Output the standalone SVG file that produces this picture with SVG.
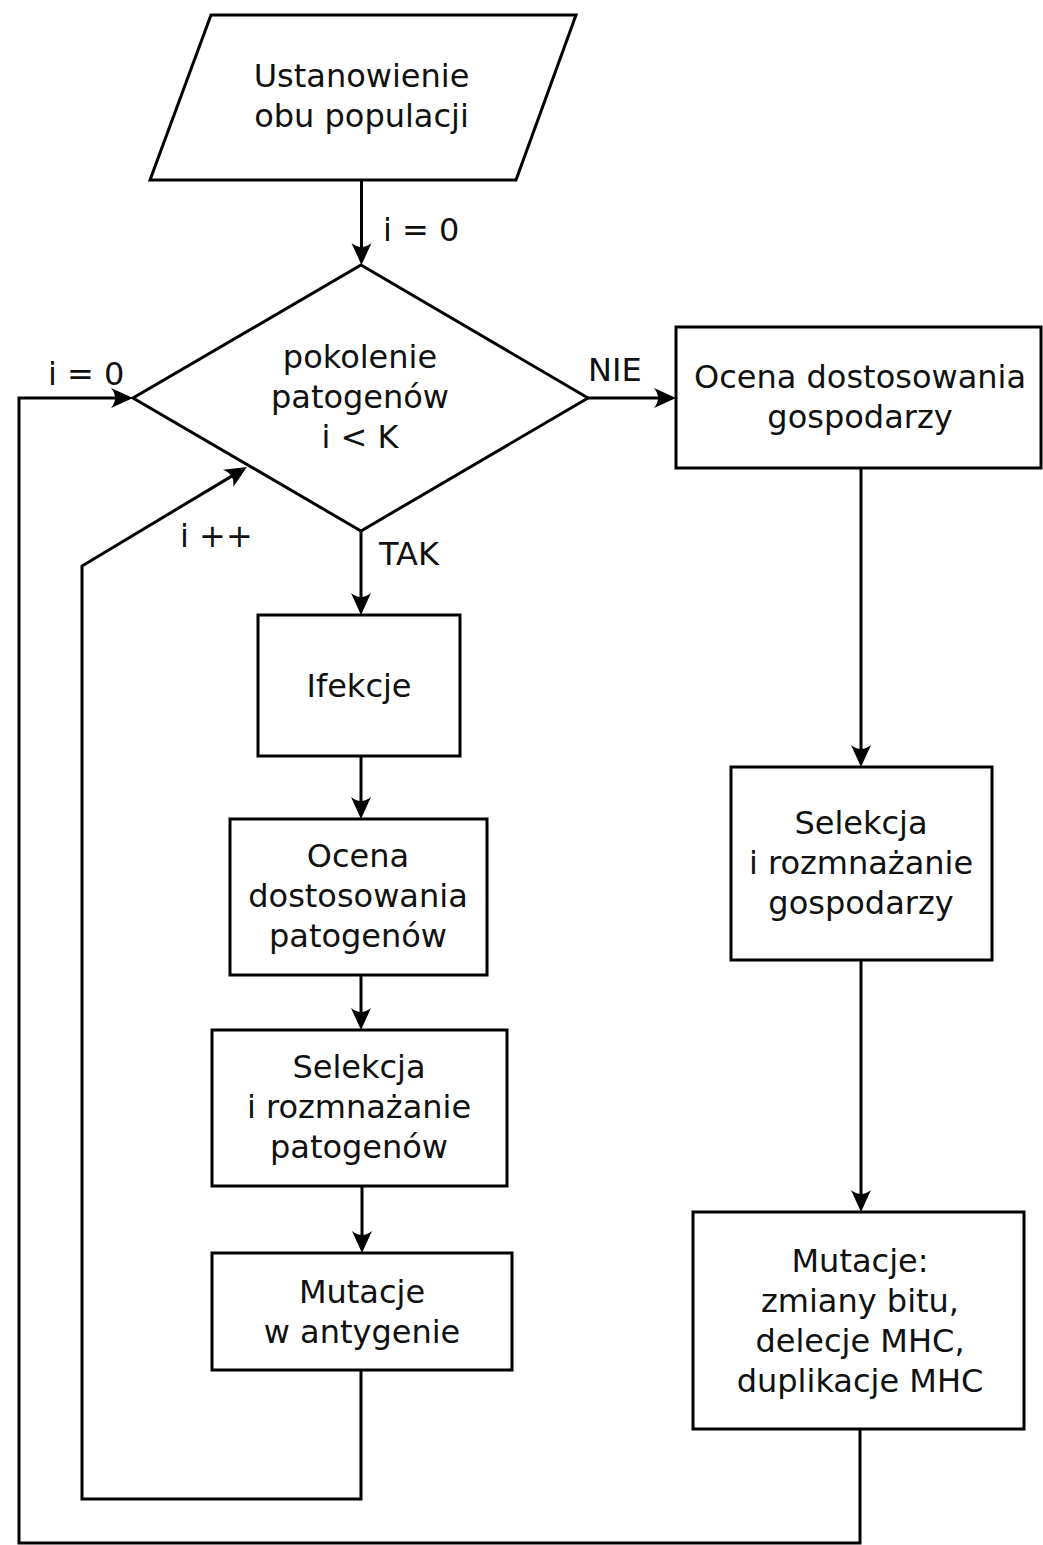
<svg xmlns="http://www.w3.org/2000/svg" width="1043" height="1545" viewBox="0 0 1043 1545">
  <style>
    .shape { fill: #ffffff; stroke: #000000; stroke-width: 3; }
    .conn { fill: none; stroke: #000000; stroke-width: 3; }
    text { font-family: "DejaVu Sans", "Liberation Sans", sans-serif; font-size: 32px; fill: #111111; }
    .c { text-anchor: middle; }
  </style>
  <defs>
    <marker id="arrow" markerUnits="userSpaceOnUse" orient="auto" refX="0" refY="0" markerWidth="40" markerHeight="40" viewBox="-20 -20 40 40" overflow="visible">
      <path d="M8,0 L-14,-10 Q-6,0 -14,10 Z" fill="#000000"/>
    </marker>
  </defs>
  <rect x="0" y="0" width="1043" height="1545" fill="#ffffff"/>

  <g id="connectors">
    <path class="conn" d="M361.5,180 L361.5,257" marker-end="url(#arrow)"/>
    <path class="conn" d="M588,398 L668,398" marker-end="url(#arrow)"/>
    <path class="conn" d="M861,468 L861,759" marker-end="url(#arrow)"/>
    <path class="conn" d="M861,960 L861,1204" marker-end="url(#arrow)"/>
    <path class="conn" d="M860,1429 V1543 H19 V398 H125" marker-end="url(#arrow)"/>
    <path class="conn" d="M361,531 V607" marker-end="url(#arrow)"/>
    <path class="conn" d="M361,756 V811" marker-end="url(#arrow)"/>
    <path class="conn" d="M361,975 V1022" marker-end="url(#arrow)"/>
    <path class="conn" d="M362,1186 V1245" marker-end="url(#arrow)"/>
    <path class="conn" d="M361,1370 V1499 H82 V566 L240.1,471.1" marker-end="url(#arrow)"/>
    <text x="383" y="241">i = 0</text>
    <text x="48" y="385">i = 0</text>
    <text x="588" y="381">NIE</text>
    <text x="379" y="565">TAK</text>
    <text x="180" y="547">i ++</text>
  </g>

  <g id="start">
    <polygon class="shape" points="211,15 576,15 516,180 150,180"/>
    <text class="c" x="361.5" y="87">Ustanowienie</text>
    <text class="c" x="361.5" y="127">obu populacji</text>
  </g>

  <g id="decision">
    <polygon class="shape" points="361,265 588,398 361,531 133,398"/>
    <text class="c" x="360" y="368">pokolenie</text>
    <text class="c" x="360" y="408">patogenów</text>
    <text class="c" x="360" y="448">i &lt; K</text>
  </g>

  <g id="host-fitness">
    <rect class="shape" x="676" y="327" width="365" height="141"/>
    <text class="c" x="860" y="388">Ocena dostosowania</text>
    <text class="c" x="860" y="428">gospodarzy</text>
  </g>

  <g id="host-selection">
    <rect class="shape" x="731" y="767" width="261" height="193"/>
    <text class="c" x="861" y="834">Selekcja</text>
    <text class="c" x="861" y="874">i rozmnażanie</text>
    <text class="c" x="861" y="914">gospodarzy</text>
  </g>

  <g id="host-mutation">
    <rect class="shape" x="693" y="1212" width="331" height="217"/>
    <text class="c" x="860" y="1272">Mutacje:</text>
    <text class="c" x="860" y="1312">zmiany bitu,</text>
    <text class="c" x="860" y="1352">delecje MHC,</text>
    <text class="c" x="860" y="1392">duplikacje MHC</text>
  </g>

  <g id="infections">
    <rect class="shape" x="258" y="615" width="202" height="141"/>
    <text class="c" x="359" y="697">Ifekcje</text>
  </g>

  <g id="pathogen-fitness">
    <rect class="shape" x="230" y="819" width="257" height="156"/>
    <text class="c" x="358" y="867">Ocena</text>
    <text class="c" x="358" y="907">dostosowania</text>
    <text class="c" x="358" y="947">patogenów</text>
  </g>

  <g id="pathogen-selection">
    <rect class="shape" x="212" y="1030" width="295" height="156"/>
    <text class="c" x="359" y="1078">Selekcja</text>
    <text class="c" x="359" y="1118">i rozmnażanie</text>
    <text class="c" x="359" y="1158">patogenów</text>
  </g>

  <g id="pathogen-mutation">
    <rect class="shape" x="212" y="1253" width="300" height="117"/>
    <text class="c" x="362" y="1303">Mutacje</text>
    <text class="c" x="362" y="1343">w antygenie</text>
  </g>
</svg>
